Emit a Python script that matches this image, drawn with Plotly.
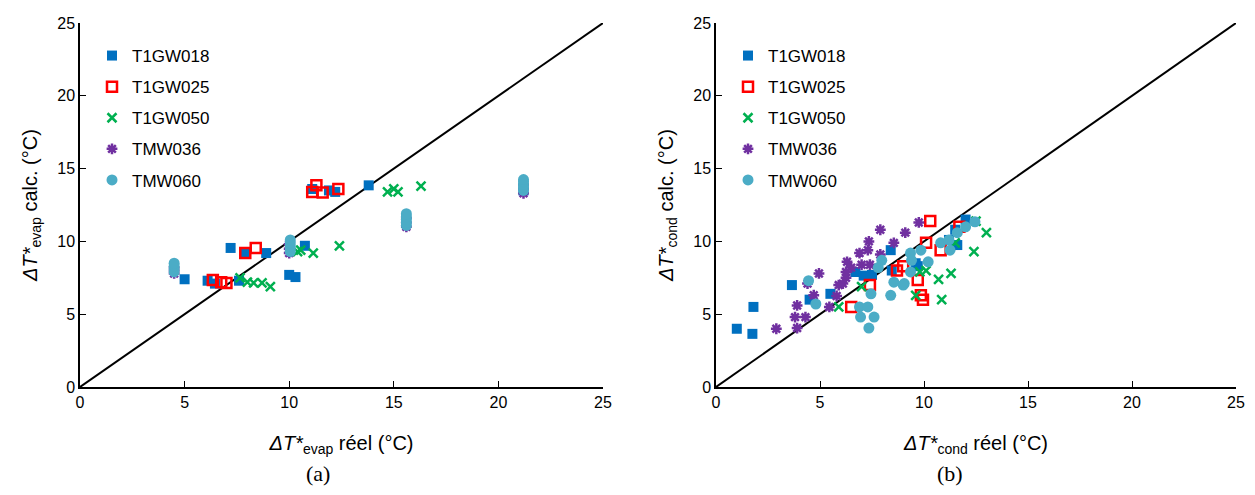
import plotly.graph_objects as go

# ---------------- data (left panel: evaporator) ----------------
L_T1GW018_x = [5.0, 6.1, 6.45, 7.2, 7.6, 7.9, 8.9, 10.0, 10.3, 10.75, 11.1, 11.9, 12.2, 13.8, 21.2]
L_T1GW018_y = [7.4, 7.3, 7.1, 9.55, 7.3, 9.2, 9.2, 7.7, 7.55, 9.7, 13.6, 13.5, 13.4, 13.85, 13.5]
L_T1GW025_x = [6.35, 6.75, 7.0, 7.9, 8.4, 11.1, 11.3, 11.6, 12.35]
L_T1GW025_y = [7.35, 7.2, 7.15, 9.2, 9.55, 13.4, 13.85, 13.35, 13.6]
L_T1GW050_x = [7.65, 8.0, 8.3, 8.7, 9.1, 10.4, 10.55, 11.15, 12.4, 14.7, 15.0, 15.2, 16.3]
L_T1GW050_y = [7.5, 7.2, 7.15, 7.15, 6.9, 9.3, 9.4, 9.2, 9.7, 13.4, 13.6, 13.4, 13.8]
L_TMW036_x = [4.5, 4.5, 4.5, 10.0, 10.0, 10.0, 15.6, 15.6, 15.6, 21.2, 21.2, 21.2]
L_TMW036_y = [7.8, 8.0, 8.2, 9.2, 9.5, 9.8, 11.0, 11.3, 11.6, 13.3, 13.6, 13.9]
L_TMW060_x = [4.5, 4.5, 4.5, 4.5, 10.05, 10.05, 10.05, 10.05, 10.05,
              15.6, 15.6, 15.6, 15.6, 15.6, 21.2, 21.2, 21.2, 21.2, 21.2]
L_TMW060_y = [7.9, 8.1, 8.3, 8.5, 9.3, 9.5, 9.7, 9.9, 10.1,
              11.1, 11.3, 11.5, 11.7, 11.9, 13.5, 13.7, 13.9, 14.1, 14.25]

# ---------------- data (right panel: condenser) ----------------
R_T1GW018_x = [1.0, 1.75, 1.8, 3.65, 4.5, 5.5, 6.7, 7.1, 7.5, 8.4, 8.45, 9.6, 9.7, 11.5, 11.6, 12.0, 11.2]
R_T1GW018_y = [4.0, 3.65, 5.5, 7.0, 6.0, 6.4, 7.9, 7.65, 7.7, 9.4, 8.0, 8.5, 8.3, 10.8, 9.75, 11.5, 10.1]
R_T1GW025_x = [6.5, 7.4, 8.7, 9.0, 9.7, 9.85, 9.95, 10.1, 10.3, 10.8, 11.7]
R_T1GW025_y = [5.5, 7.0, 8.0, 8.3, 7.35, 6.3, 6.0, 9.9, 11.4, 9.4, 11.0]
R_T1GW050_x = [5.9, 7.0, 9.6, 9.8, 10.1, 10.7, 10.85, 11.3, 11.5, 12.4, 13.0, 12.5]
R_T1GW050_y = [5.5, 6.9, 6.3, 7.9, 8.0, 7.4, 6.0, 7.8, 9.9, 9.3, 10.6, 11.4]
R_TMW036_x = [2.9, 3.9, 3.8, 4.3, 3.9, 4.7, 5.45, 4.95, 5.8, 5.9, 6.25, 6.3, 6.5,
              6.9, 7.0, 7.35, 7.3, 7.9, 7.9, 6.1, 6.25, 7.4, 8.55, 9.1, 9.75, 4.4]
R_TMW036_y = [4.0, 4.05, 4.8, 4.8, 5.6, 6.3, 5.5, 7.8, 6.25, 7.0, 7.5, 8.6, 8.2,
              9.2, 8.4, 10.0, 9.4, 10.8, 9.1, 7.1, 7.9, 8.4, 9.9, 10.6, 11.3, 7.1]
R_TMW060_x = [4.45, 4.8, 6.9, 7.3, 6.95, 7.6, 7.35, 7.45, 7.8, 7.97, 8.55, 8.4, 9.05,
              9.35, 9.4, 9.35, 9.85, 10.2, 10.8, 11.2, 11.25, 11.6, 12.0, 12.45, 9.0]
R_TMW060_y = [7.3, 5.7, 5.5, 5.5, 4.8, 4.8, 4.05, 6.4, 8.2, 8.7, 7.2, 6.3, 7.1,
              9.2, 8.7, 7.9, 9.4, 8.6, 9.9, 10.1, 9.4, 10.6, 11.0, 11.35, 7.0]

diag = [0, 25]
ticks = [0, 5, 10, 15, 20, 25]
names = ["T1GW018", "T1GW025", "T1GW050", "TMW036", "TMW060"]

styles = {
    "T1GW018": dict(symbol="square", size=10, color="#0070C0"),
    "T1GW025": dict(symbol="square-open", size=10, color="#FF0000", line=dict(width=2.5, color="#FF0000")),
    "T1GW050": dict(symbol="x-thin-open", size=9, color="#00B050", line=dict(width=2.5, color="#00B050")),
    "TMW036": dict(symbol="asterisk-open", size=9, color="#7030A0", line=dict(width=2.5, color="#7030A0")),
    "TMW060": dict(symbol="circle", size=11, color="#4BACC6"),
}

left = {
    "T1GW018": (L_T1GW018_x, L_T1GW018_y), "T1GW025": (L_T1GW025_x, L_T1GW025_y),
    "T1GW050": (L_T1GW050_x, L_T1GW050_y), "TMW036": (L_TMW036_x, L_TMW036_y),
    "TMW060": (L_TMW060_x, L_TMW060_y),
}
right = {
    "T1GW018": (R_T1GW018_x, R_T1GW018_y), "T1GW025": (R_T1GW025_x, R_T1GW025_y),
    "T1GW050": (R_T1GW050_x, R_T1GW050_y), "TMW036": (R_TMW036_x, R_TMW036_y),
    "TMW060": (R_TMW060_x, R_TMW060_y),
}

fig = go.Figure()
for panel, data, xa, ya, lg in [("L", left, "x", "y", "legend"), ("R", right, "x2", "y2", "legend2")]:
    fig.add_trace(go.Scatter(x=diag, y=diag, mode="lines", line=dict(color="black", width=2),
                             xaxis=xa, yaxis=ya, showlegend=False, hoverinfo="skip"))
    for n in names:
        xs, ys = data[n]
        fig.add_trace(go.Scatter(x=xs, y=ys, mode="markers", name=n, marker=styles[n],
                                 xaxis=xa, yaxis=ya, legend=lg, legendgroup=panel + n))

# page has an 8px body margin; figure fills the rest of the 1255x495 window
OFF = 8
W, H = 1255 - 2 * OFF, 495 - 2 * OFF
def px_x(p): return (p - OFF) / W
def px_y(p): return 1 - (p - OFF) / H

axis_common = dict(range=[0, 25], tickvals=ticks, showgrid=False, zeroline=False,
                   showline=True, linecolor="black", linewidth=1.5,
                   ticks="inside", ticklen=6, tickcolor="black", automargin=False,
                   tickfont=dict(family="Liberation Sans, Arial", size=16, color="black"))

title_font = dict(family="Liberation Sans, Arial", size=20, color="black")

fig.update_layout(
    width=W, height=H, margin=dict(l=0, r=0, t=0, b=0),
    plot_bgcolor="white", paper_bgcolor="white",
    xaxis=dict(domain=[px_x(80), px_x(603)], anchor="y", **axis_common,
               title=dict(text="<i>ΔT*</i><sub>evap</sub> réel (°C)", font=title_font, standoff=26)),
    yaxis=dict(domain=[px_y(387), px_y(23)], anchor="x", **axis_common,
               title=dict(text="<i>ΔT*</i><sub>evap</sub> calc. (°C)", font=title_font, standoff=14)),
    xaxis2=dict(domain=[px_x(716), px_x(1236)], anchor="y2", **axis_common,
                title=dict(text="<i>ΔT*</i><sub>cond</sub> réel (°C)", font=title_font, standoff=26)),
    yaxis2=dict(domain=[px_y(387), px_y(23)], anchor="x2", **axis_common,
                title=dict(text="<i>ΔT*</i><sub>cond</sub> calc. (°C)", font=title_font, standoff=14)),
    legend=dict(x=px_x(92), y=px_y(38), xanchor="left", yanchor="top", bgcolor="rgba(0,0,0,0)",
                font=dict(family="Liberation Sans, Arial", size=17, color="black"), tracegroupgap=6),
    legend2=dict(x=px_x(728), y=px_y(38), xanchor="left", yanchor="top", bgcolor="rgba(0,0,0,0)",
                 font=dict(family="Liberation Sans, Arial", size=17, color="black"), tracegroupgap=6),
    annotations=[
        dict(text="(a)", x=px_x(318), y=px_y(473), xref="paper", yref="paper", showarrow=False,
             xanchor="center", yanchor="middle",
             font=dict(family="Liberation Serif, Times New Roman", size=22, color="black")),
        dict(text="(b)", x=px_x(950), y=px_y(473), xref="paper", yref="paper", showarrow=False,
             xanchor="center", yanchor="middle",
             font=dict(family="Liberation Serif, Times New Roman", size=22, color="black")),
    ],
)

fig.write_html("out.html")
